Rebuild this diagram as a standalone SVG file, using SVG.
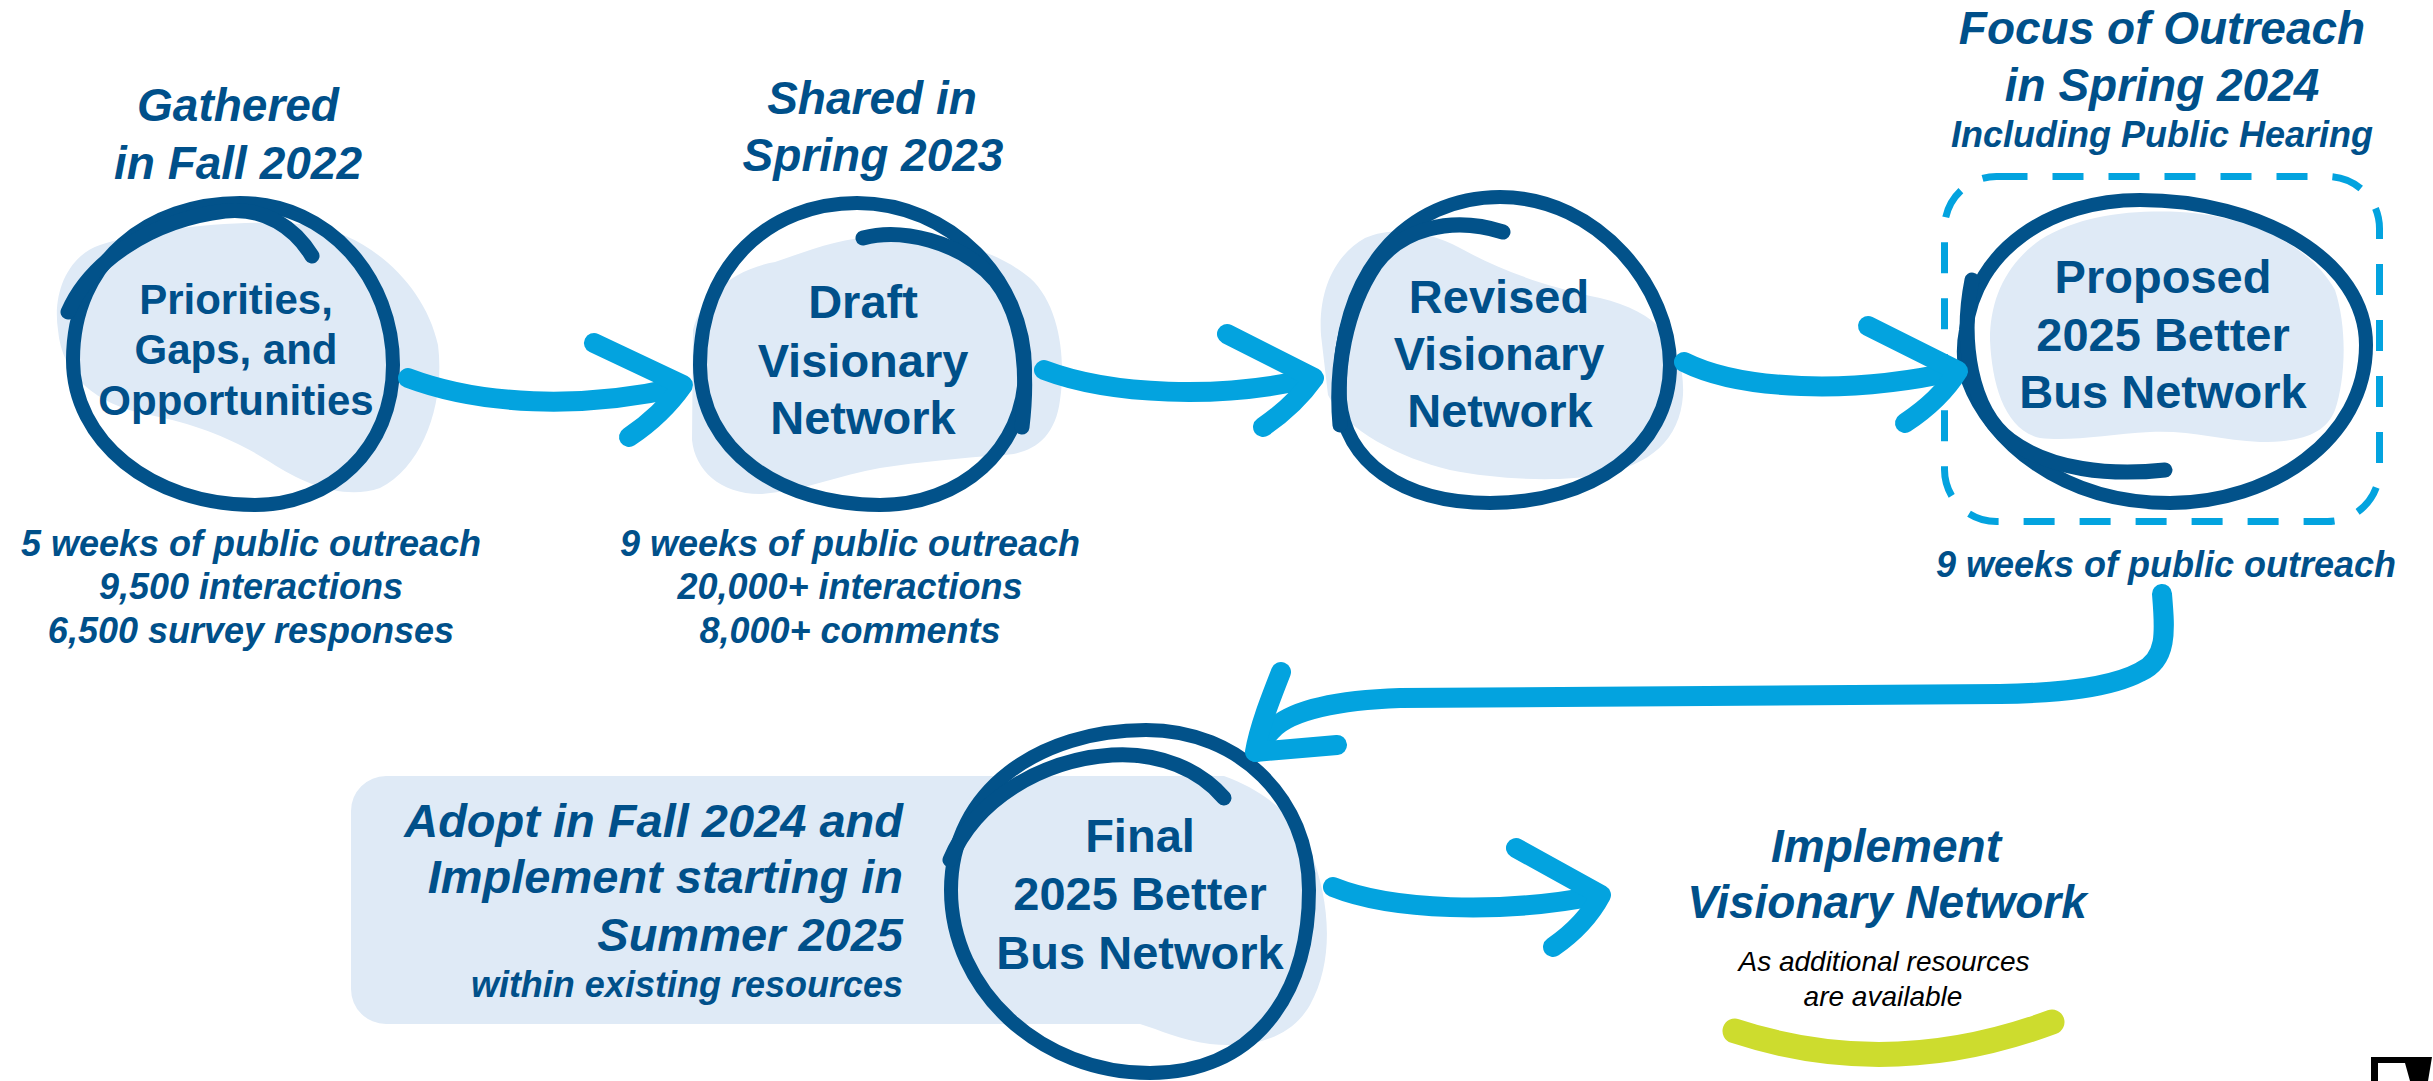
<svg xmlns="http://www.w3.org/2000/svg" width="2433" height="1081" viewBox="0 0 2433 1081">
<style>
.blob{fill:#DFEAF6;stroke:none}
.ring{fill:none;stroke:#02528A;stroke-width:14;stroke-linecap:round;stroke-linejoin:round}
.tail{fill:none;stroke:#02528A;stroke-width:15;stroke-linecap:round;stroke-linejoin:round}
.arrow{fill:none;stroke:#03A3DF;stroke-width:20;stroke-linecap:round;stroke-linejoin:round}
.title{font-family:"Liberation Sans",Arial,sans-serif;font-weight:bold;font-style:italic;fill:#00508A;text-anchor:middle}
.end{text-anchor:end}
.label{font-family:"Liberation Sans",Arial,sans-serif;font-weight:bold;fill:#00508A;text-anchor:middle}
.note{font-family:"Liberation Sans",Arial,sans-serif;font-style:italic;fill:#000;text-anchor:middle;font-size:28px}
.t46{font-size:46px}
.t47{font-size:47px}
.t36{font-size:36px}
</style>
<rect width="2433" height="1081" fill="#fff"/>

<g id="node-priorities">
<path class="blob" d="M58,330 C52,290 70,255 100,245 C150,228 250,218 310,225 C370,235 425,285 438,345 C445,400 425,465 380,488 C345,500 305,485 270,462 C235,440 200,425 150,415 C95,405 62,375 58,330 Z"/>
<path class="ring" d="M73,360 C73,260 150,203 240,203 C330,203 393,280 393,365 C393,450 330,505 255,505 C150,505 73,440 73,360 Z"/>
<path class="tail" d="M68,312 C90,262 150,220 225,211 C265,207 295,228 312,256"/>
<text class="title t46" x="238" y="121">Gathered</text>
<text class="title t46" x="238" y="179">in Fall 2022</text>
<text class="label" font-size="42" x="236" y="314">Priorities,</text>
<text class="label" font-size="42" x="236" y="364">Gaps, and</text>
<text class="label" font-size="42" x="236" y="415">Opportunities</text>
<text class="title t36" x="251" y="556">5 weeks of public outreach</text>
<text class="title t36" x="251" y="599">9,500 interactions</text>
<text class="title t36" x="251" y="643">6,500 survey responses</text>
</g>

<g id="node-draft">
<path class="blob" d="M693,330 C700,300 730,270 775,262 C810,250 840,238 880,236 C930,234 990,245 1030,278 C1060,305 1066,360 1060,400 C1055,440 1030,455 1000,455 C960,458 920,462 880,468 C840,475 800,492 760,494 C720,494 695,470 692,440 Z"/>
<path class="ring" d="M700,365 C700,265 770,203 857,203 C950,203 1025,280 1025,370 C1025,450 960,505 880,505 C780,505 700,450 700,365 Z"/>
<path class="tail" d="M863,238 C900,228 960,240 995,280 C1020,312 1030,360 1022,427"/>
<text class="title t46" x="872" y="114">Shared in</text>
<text class="title t46" x="873" y="171">Spring 2023</text>
<text class="label t47" x="863" y="318">Draft</text>
<text class="label t47" x="863" y="377">Visionary</text>
<text class="label t47" x="863" y="434">Network</text>
<text class="title t36" x="850" y="556">9 weeks of public outreach</text>
<text class="title t36" x="850" y="599">20,000+ interactions</text>
<text class="title t36" x="850" y="643">8,000+ comments</text>
</g>

<g id="node-revised">
<path class="blob" d="M1321,335 C1318,290 1335,255 1365,238 C1395,225 1430,232 1460,248 C1500,270 1540,285 1600,298 C1660,312 1685,345 1683,395 C1680,440 1650,465 1600,475 C1560,482 1500,480 1450,470 C1400,458 1345,430 1328,395 Z"/>
<path class="ring" d="M1340,400 C1335,270 1410,197 1500,197 C1600,197 1670,290 1670,365 C1670,450 1590,503 1490,503 C1400,503 1345,460 1340,400 Z"/>
<path class="tail" d="M1503,232 C1450,215 1400,230 1375,265 C1345,310 1335,370 1340,425"/>
<text class="label t47" x="1499" y="313">Revised</text>
<text class="label t47" x="1499" y="370">Visionary</text>
<text class="label t47" x="1500" y="427">Network</text>
</g>

<g id="node-proposed">
<rect x="1944.5" y="176.5" width="435" height="345" rx="52" fill="none" stroke="#03A3DF" stroke-width="7" stroke-dasharray="31 25"/>
<path class="blob" d="M1990,340 C1990,300 2005,265 2040,240 C2080,215 2130,210 2180,212 C2250,216 2310,245 2335,290 C2348,330 2345,380 2335,410 C2325,435 2300,442 2260,442 C2220,440 2190,430 2150,432 C2110,434 2070,442 2040,438 C2005,430 1992,385 1990,340 Z"/>
<path class="ring" d="M1966,330 C1975,250 2050,200 2140,200 C2260,200 2366,260 2366,345 C2366,440 2270,503 2170,503 C2060,503 1990,440 1968,380 C1962,360 1963,345 1966,330 Z"/>
<path class="tail" d="M1972,280 C1960,340 1970,410 2010,440 C2050,470 2110,476 2165,470"/>
<text class="title t46" x="2162" y="44">Focus of Outreach</text>
<text class="title t46" x="2162" y="101">in Spring 2024</text>
<text class="title t36" x="2162" y="147">Including Public Hearing</text>
<text class="label t47" x="2163" y="293">Proposed</text>
<text class="label t47" x="2163" y="351">2025 Better</text>
<text class="label t47" x="2163" y="408">Bus Network</text>
<text class="title t36" x="2166" y="577">9 weeks of public outreach</text>
</g>

<g id="node-final">
<path class="blob" d="M386,776 H1224 C1262,790 1292,812 1310,850 C1330,900 1335,960 1310,1005 C1290,1040 1250,1048 1210,1044 C1180,1040 1160,1030 1140,1024 H386 A35,35 0 0 1 351,989 V811 A35,35 0 0 1 386,776 Z"/>
<path class="ring" d="M951,890 C951,790 1040,730 1146,730 C1240,730 1309,800 1309,890 C1309,1000 1250,1073 1150,1073 C1040,1073 951,990 951,890 Z"/>
<path class="tail" d="M950,860 C975,800 1040,760 1112,755 C1160,752 1200,770 1224,798"/>
<text class="title t47 end" x="903" y="837">Adopt in Fall 2024 and</text>
<text class="title t47 end" x="903" y="893">Implement starting in</text>
<text class="title t47 end" x="903" y="951">Summer 2025</text>
<text class="title t36 end" x="903" y="997">within existing resources</text>
<text class="label t47" x="1140" y="852">Final</text>
<text class="label t47" x="1140" y="910">2025 Better</text>
<text class="label t47" x="1140" y="969">Bus Network</text>
</g>

<g id="node-implement">
<text class="title t46" x="1886" y="862">Implement</text>
<text class="title t46" x="1887" y="918">Visionary Network</text>
<text class="note" x="1884" y="971">As additional resources</text>
<text class="note" x="1883" y="1006">are available</text>
<path d="M1735,1031 Q1890,1082 2052,1022" fill="none" stroke="#CDDC2E" stroke-width="25" stroke-linecap="round"/>
</g>

<g id="connectors">
<path class="arrow" d="M408,378 C480,405 580,410 680,387"/>
<path class="arrow" d="M594,343 L683,385 Q662,415 629,437"/>
<path class="arrow" d="M1044,370 C1110,395 1220,400 1312,378"/>
<path class="arrow" d="M1227,334 L1314,378 Q1295,405 1263,427"/>
<path class="arrow" d="M1684,362 C1740,390 1850,395 1956,371"/>
<path class="arrow" d="M1868,326 L1958,371 Q1940,400 1905,423"/>
<path class="arrow" d="M2162,594 C2165,630 2168,660 2140,672 C2110,688 2060,693 2000,694 L1400,698 C1340,700 1290,710 1272,730 C1262,740 1258,748 1256,752"/>
<path class="arrow" d="M1281,672 C1270,700 1259,728 1255,752 L1337,745"/>
<path class="arrow" d="M1333,887 C1390,910 1500,915 1600,895"/>
<path class="arrow" d="M1516,848 L1601,895 Q1585,925 1553,947"/>
</g>

<path id="logo-fragment" d="M2371,1057 H2432 L2428,1081 H2410 L2405,1063 H2378 V1081 H2371 Z" fill="#000"/>
</svg>
